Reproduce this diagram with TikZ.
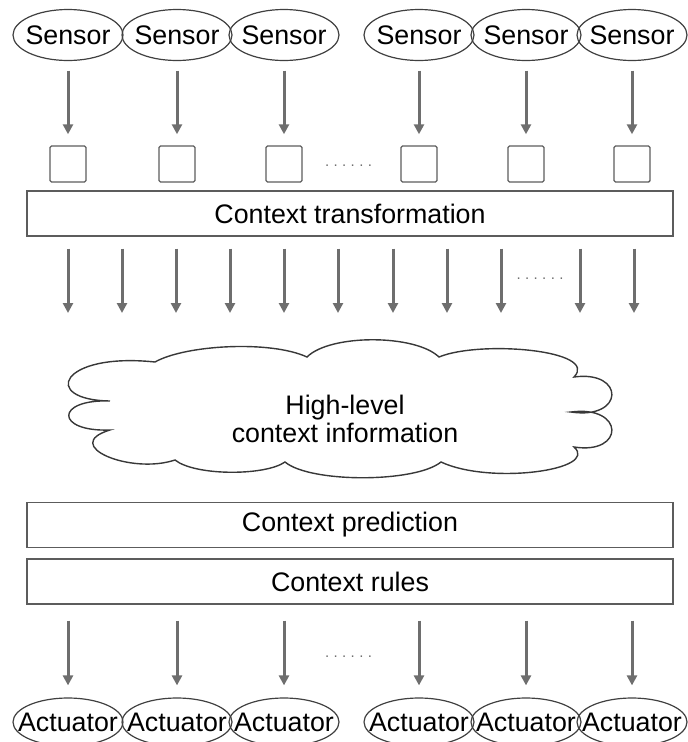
\documentclass[tikz,border=0pt]{standalone}
\usepackage{fontspec}
\setmainfont{Liberation Sans}
\usetikzlibrary{arrows.meta,shapes.geometric}
\definecolor{arrgray}{HTML}{6E6E6E}
\definecolor{linegray}{HTML}{5C5C5C}
\definecolor{ovalgray}{HTML}{404040}
\definecolor{cloudgray}{HTML}{383838}
\newcommand{\dotrow}{\makebox[47pt]{.\hfill.\hfill.\hfill.\hfill.\hfill.}}

\begin{document}
\begin{tikzpicture}[x=1pt,y=-1pt,
  every node/.style={font=\fontsize{26.8}{28}\selectfont, text=black},
  oval/.style={ellipse, draw=ovalgray, line width=1.2pt, inner sep=0pt,
               minimum width=110pt},
  sensoroval/.style={oval, minimum height=51pt},
  actoval/.style={oval, minimum height=48pt},
  smallbox/.style={draw=linegray, line width=1.4pt, rounded corners=1.5pt,
                   minimum width=36pt, minimum height=36pt, inner sep=0pt},
  layerbox/.style={draw=linegray, line width=1.4pt, minimum width=646pt,
                   minimum height=45pt, inner sep=0pt},
  arr/.style={draw=arrgray, line width=3pt, -{Triangle[length=10pt,width=10pt]}},
  dots/.style={font=\fontsize{15}{15}\selectfont, text=arrgray, inner sep=0pt}
]
\useasboundingbox (0,0) rectangle (688,742);

% sensors, their buffers and the actuators, column by column
\foreach \i/\x in {1/68,2/177,3/284,4/419,5/526,6/632}{
  \node[sensoroval, label={center:Sensor}] (s\i) at (\x,35) {};
  \node[smallbox] (b\i) at (\x,164) {};
  \node[actoval, label={center:Actuator}] (a\i) at (\x,722) {};
}

% layers
\node[layerbox] (ct) at (350,213.5) {Context transformation};
\node[layerbox] (cp) at (350,525) {Context prediction};
\node[layerbox] (cr) at (350,581.5) {Context rules};

% sensors feed their buffers
\foreach \i in {1,...,6}
  \draw[arr, shorten <=9.5pt, shorten >=11pt] (s\i.south) -- (b\i.north);

% transformed context flows down towards the cloud
\foreach \i/\x in {1/68,2/122,3/176,4/230,5/284,6/338,7/393,8/447,9/501,10/580,11/634}{
  \coordinate (m\i) at (\x,313);
  \draw[arr, shorten <=12pt] (m\i |- ct.south) -- (m\i);
}

% rules drive the actuators
\foreach \i in {1,...,6}
  \draw[arr, shorten <=16pt, shorten >=12pt] (a\i |- cr.south) -- (a\i.north);

% ellipses between columns
\node[dots] (d1) at (348.5,166) {\dotrow};
\node[dots] (d2) at (540,279) {\dotrow};
\node[dots] (d3) at (348.5,657) {\dotrow};

% high-level context cloud
\draw[cloudgray, line width=1.4pt]
  (155,362)
  .. controls (185,345) and (270,340) .. (307,357)
  .. controls (330,334) and (415,334) .. (439,357)
  .. controls (480,340) and (600,350) .. (574,377)
  .. controls (625,370) and (625,420) .. (571,412)
  .. controls (625,405) and (625,455) .. (574,447)
  .. controls (600,470) and (490,485) .. (441,462)
  .. controls (415,483) and (310,483) .. (285,462)
  .. controls (265,476) and (195,476) .. (175,460)
  .. controls (130,475) and (60,445) .. (110,430)
  .. controls (55,432) and (55,399) .. (110,401)
  .. controls (40,400) and (60,352) .. cycle;
\node[align=center, inner sep=0pt] (hl) at (345,419) {High-level\\context information};
\end{tikzpicture}
\end{document}
